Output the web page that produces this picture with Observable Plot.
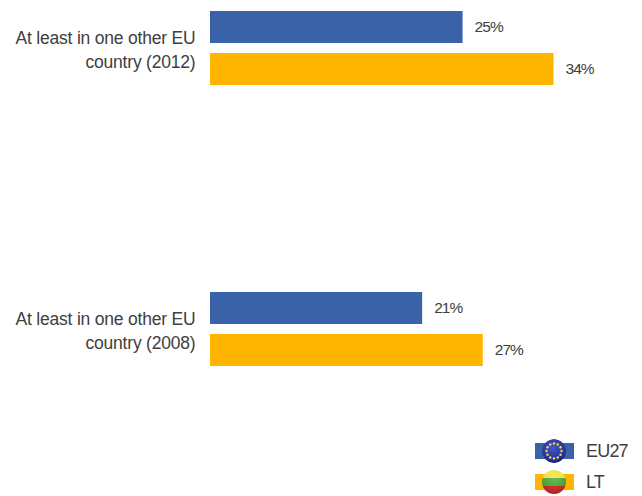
<!DOCTYPE html>
<html>
<head>
<meta charset="utf-8">
<script src="https://cdn.jsdelivr.net/npm/d3@7"></script>
<script src="https://cdn.jsdelivr.net/npm/@observablehq/plot@0.6"></script>
<style>
html,body{margin:0;padding:0;background:#fff;}
#chart{position:relative;width:642px;height:496px;overflow:hidden;font-family:"Liberation Sans",Arial,sans-serif;}
#chart svg.plot{display:block;}
.val{letter-spacing:-0.95px;}
.cat{letter-spacing:-0.2px;}
#legend{position:absolute;left:535px;top:439px;color:#404040;font-size:18px;letter-spacing:-0.8px;}
.key{position:absolute;left:0;width:107px;height:24px;}
.key .sw{position:absolute;left:0;top:4px;width:39px;height:16px;}
.key .ball{position:absolute;left:7px;top:0;width:24px;height:24px;border-radius:50%;}
.key span.t{position:absolute;left:51px;top:2px;line-height:20px;}
</style>
</head>
<body>
<div id="chart"></div>
<script>
const periods = ["2012", "2008"];
const periodLabels = ["At least in one other EU\ncountry (2012)", "At least in one other EU\ncountry (2008)"];
const seriesNames = ["EU27", "LT"];
const seriesColors = ["#3A62A8", "#FFB400"];
const eu27Values = [25, 21];
const ltValues = [34, 27];

const rows = periods.flatMap((p, i) => [
  {period: p, series: seriesNames[0], value: eu27Values[i]},
  {period: p, series: seriesNames[1], value: ltValues[i]}
]);

const plot = Plot.plot({
  width: 642,
  height: 430,
  marginLeft: 0, marginRight: 0, marginTop: 0, marginBottom: 0,
  style: {background: "transparent", fontFamily: '"Liberation Sans",Arial,sans-serif'},
  x: {domain: [0, 34], range: [210, 553.5], axis: null},
  y: {domain: seriesNames, axis: null, paddingInner: 0.235, paddingOuter: 0.165},
  fy: {domain: periods, range: [3, 374], paddingInner: 0.68, paddingOuter: 0, align: 0, axis: null},
  color: {domain: seriesNames, range: seriesColors},
  marks: [
    Plot.barX(rows, {x: "value", y: "series", fy: "period", fill: "series"}),
    Plot.text(rows, {
      x: "value", y: "series", fy: "period",
      text: d => d.value + "%",
      className: "val",
      textAnchor: "start", dx: 11.5, fontSize: 15.5, fill: "#404040"
    }),
    Plot.text(periods, {
      fy: d => d,
      frameAnchor: "left",
      dx: 195,
      textAnchor: "end",
      text: d => periodLabels[periods.indexOf(d)],
      className: "cat",
      fontSize: 17.5,
      lineHeight: 1.37,
      fill: "#404040"
    })
  ]
});
document.getElementById("chart").appendChild(plot);

const stars = d3.range(12).map(i => {
  const a = i * Math.PI / 6;
  return `<circle cx="${12 + 7.5 * Math.cos(a)}" cy="${12 + 7.5 * Math.sin(a)}" r="1.2" fill="#F0D84A"/>`;
}).join("");
const legend = document.createElement("div");
legend.id = "legend";
legend.innerHTML = `
<div class="key" style="top:0">
  <div class="sw" style="background:${seriesColors[0]}"></div>
  <svg class="ball" viewBox="0 0 24 24">
    <defs><radialGradient id="eu" cx="45%" cy="35%" r="70%"><stop offset="0" stop-color="#4358C4"/><stop offset="0.75" stop-color="#25319A"/><stop offset="1" stop-color="#0F1560"/></radialGradient></defs>
    <circle cx="12" cy="12" r="12" fill="url(#eu)"/>${stars}
  </svg>
  <span class="t">${seriesNames[0]}</span>
</div>
<div class="key" style="top:31px">
  <div class="sw" style="background:${seriesColors[1]}"></div>
  <div class="ball" style="background:radial-gradient(circle at 50% 25%,rgba(255,255,255,.2),rgba(255,255,255,0) 50%,rgba(0,0,0,.3) 100%),linear-gradient(#EFE23A 0 33%,#4EA83C 33% 67%,#D0302A 67% 100%)"></div>
  <span class="t">${seriesNames[1]}</span>
</div>`;
document.getElementById("chart").appendChild(legend);
</script>
</body>
</html>
